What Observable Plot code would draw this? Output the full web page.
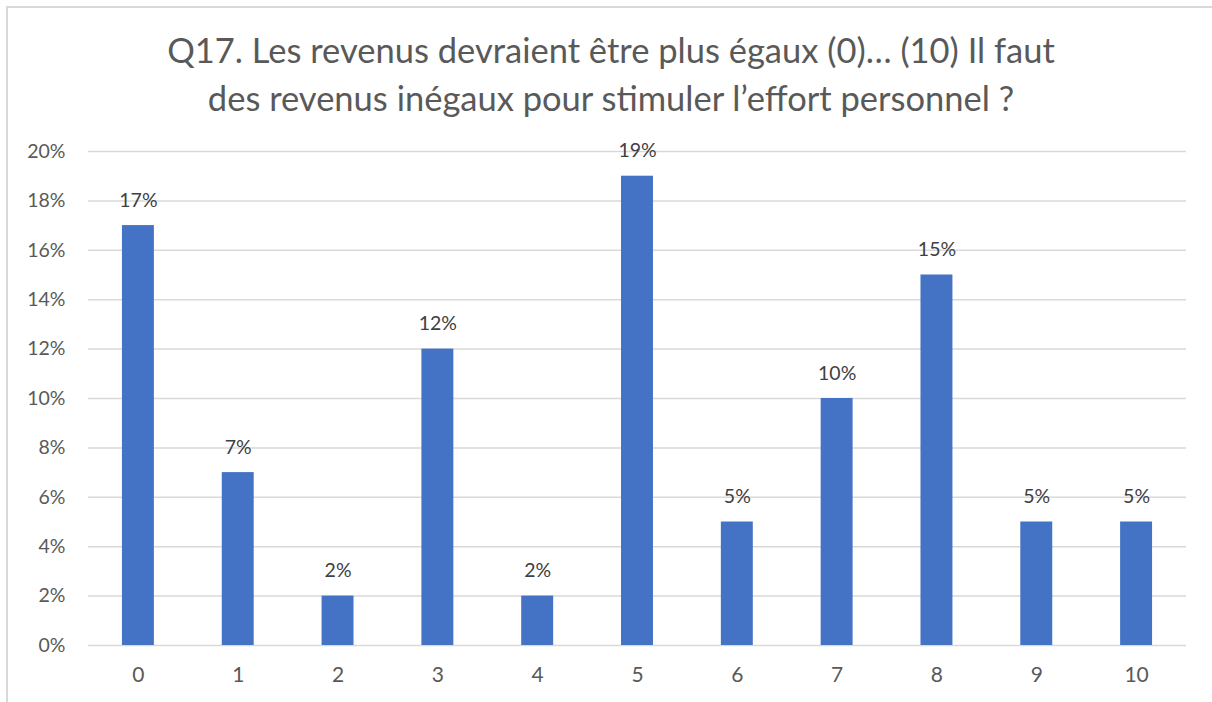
<!DOCTYPE html>
<html>
<head>
<meta charset="utf-8">
<script src="https://cdn.jsdelivr.net/npm/d3@7"></script>
<script src="https://cdn.jsdelivr.net/npm/@observablehq/plot@0.6"></script>
<style>
  body { margin: 0; background: #fff; font-family: Lato, "Open Sans", sans-serif; }
  #wrap { position: relative; width: 1212px; height: 702px; overflow: hidden; }
  #frame { position: absolute; left: 6px; top: 6px; width: 1220px; height: 720px; border-left: 2px solid #d9d9d9; border-top: 2px solid #d9d9d9; box-sizing: border-box; pointer-events: none; }
  #title { height: 130px; box-sizing: border-box; padding-top: 26px; text-align: center; color: #595959; font-size: 34.5px; line-height: 48px; padding-left: 10px; }
  #chart svg { display: block; }
</style>
</head>
<body>
<div id="wrap">
  <div id="title">Q17. Les revenus devraient être plus égaux (0)… (10) Il faut<br>des revenus inégaux pour stimuler l’effort personnel ?</div>
  <div id="chart"></div>
  <div id="frame"></div>
</div>
<script>
const categories = ["0","1","2","3","4","5","6","7","8","9","10"];
const values = [0.17, 0.07, 0.02, 0.12, 0.02, 0.19, 0.05, 0.10, 0.15, 0.05, 0.05];
const yTicks = [0, 0.02, 0.04, 0.06, 0.08, 0.10, 0.12, 0.14, 0.16, 0.18, 0.20];

const data = categories.map((c, i) => ({cat: c, value: values[i]}));
const pct = d3.format(".0%");

const chart = Plot.plot({
  width: 1212,
  height: 572,
  marginTop: 21,
  marginBottom: 57,
  marginLeft: 88,
  marginRight: 26,
  style: {fontFamily: "Lato, 'Open Sans', sans-serif", fontSize: "19px", color: "#595959", background: "transparent"},
  x: {domain: categories, paddingInner: 0.68, paddingOuter: 0.34, align: 0.5, round: false, label: null, tickSize: 0},
  y: {domain: [0, 0.20], ticks: yTicks, tickFormat: pct, label: null, tickSize: 0},
  marks: [
    Plot.gridY(yTicks, {stroke: "#d9d9d9", strokeOpacity: 1, strokeWidth: 1.5}),
    Plot.barY(data, {x: "cat", y: "value", fill: "#4472c4"}),
    Plot.text(data, {x: "cat", y: "value", text: d => pct(d.value), dy: -25, fill: "#404040", fontSize: 19.5}),
    Plot.axisX({tickSize: 0, tickPadding: 22, fontSize: 21}),
    Plot.axisY({ticks: yTicks, tickFormat: pct, tickSize: 0, tickPadding: 23, fontSize: 19.5})
  ]
});
document.getElementById("chart").appendChild(chart);
</script>
</body>
</html>
